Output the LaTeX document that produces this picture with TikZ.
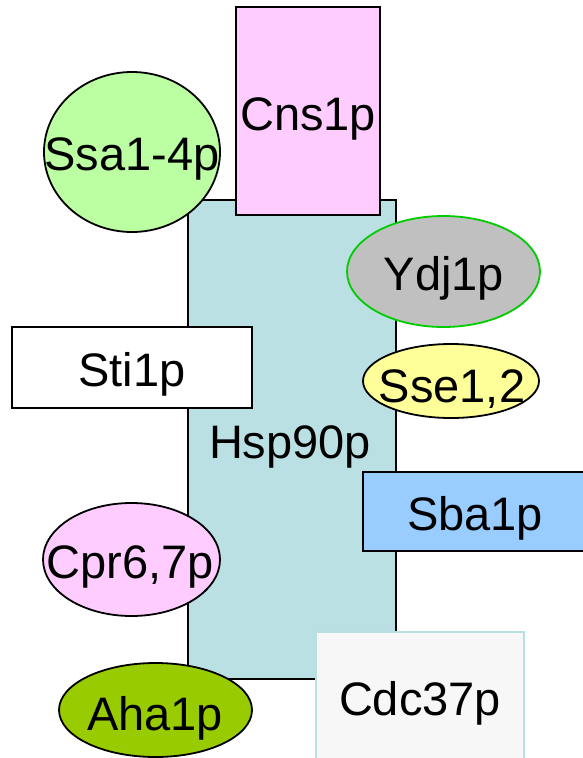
\documentclass[tikz,border=0pt]{standalone}
\usepackage{fontspec}
\setmainfont{Liberation Sans}
\definecolor{hspc}{RGB}{187,224,227}
\definecolor{pinkc}{RGB}{255,204,255}
\definecolor{ssac}{RGB}{187,255,162}
\definecolor{ydjc}{RGB}{192,192,192}
\definecolor{ydjb}{RGB}{0,204,0}
\definecolor{ssec}{RGB}{255,255,153}
\definecolor{sbac}{RGB}{153,204,255}
\definecolor{cdcc}{RGB}{247,247,247}
\definecolor{cdcb}{RGB}{184,224,227}
\definecolor{ahac}{RGB}{153,204,0}
\tikzset{
  shp/.style={draw=black, line width=1.8pt},
  lbl/.style={anchor=base, inner sep=0pt, font=\fontsize{47}{56}\selectfont}
}
\begin{document}
\begin{tikzpicture}[x=1pt,y=-1pt]
\useasboundingbox (0,0) rectangle (583,758);
\clip (0,0) rectangle (583,758);
\fill[white] (0,0) rectangle (583,758);
% Hsp90p
\filldraw[shp, fill=hspc] (188,200) rectangle (396,679);
\node[lbl] (hsp) at (290,458) {Hsp90p};
% Cns1p
\filldraw[shp, fill=pinkc] (236,7) rectangle (380,215);
\node[lbl] (cns) at (308,130) {Cns1p};
% Ssa1-4p
\filldraw[shp, fill=ssac] (132,152) ellipse [x radius=88pt, y radius=80pt];
\node[lbl] (ssa) at (132,170) {Ssa1-4p};
% Ydj1p
\filldraw[line width=1.8pt, draw=ydjb, fill=ydjc] (443.5,271.5) ellipse [x radius=96.5pt, y radius=55.5pt];
\node[lbl] (ydj) at (444,290) {Ydj1p};
% Sti1p
\filldraw[shp, fill=white] (12,327) rectangle (252,408);
\node[lbl] (sti) at (132,386) {Sti1p};
% Sse1,2
\filldraw[shp, fill=ssec] (451,381) ellipse [x radius=88pt, y radius=37pt];
\node[lbl] (sse) at (452,402) {Sse1,2};
% Sba1p
\filldraw[shp, fill=sbac] (363,472) rectangle (600,551);
\node[lbl] (sba) at (475,530) {Sba1p};
% Cpr6,7p
\filldraw[shp, fill=pinkc] (131.5,559.5) ellipse [x radius=88.5pt, y radius=56.5pt];
\node[lbl] (cpr) at (130,578) {Cpr6,7p};
% Aha1p
\filldraw[shp, fill=ahac] (155.5,710) ellipse [x radius=96.5pt, y radius=47pt];
\node[lbl] (aha) at (155,730) {Aha1p};
% Cdc37p
\filldraw[line width=1.3pt, draw=cdcb, fill=cdcc] (316,632) rectangle (524,770);
\node[lbl] (cdc) at (420,715) {Cdc37p};
\end{tikzpicture}
\end{document}
